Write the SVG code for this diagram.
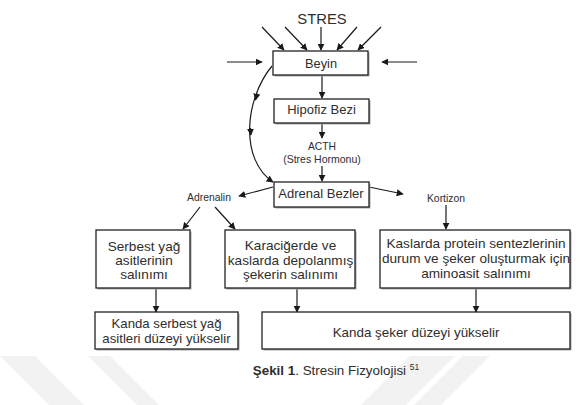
<svg xmlns="http://www.w3.org/2000/svg" width="583" height="405" viewBox="0 0 583 405">
<style>
.box{fill:#fff;stroke:#222;stroke-width:1.3}
.sh{fill:#aaa}
.ln{fill:none;stroke:#1a1a1a;stroke-width:1.2}
.t{font-family:"Liberation Sans",Arial,sans-serif;fill:#2e2e2e;text-anchor:middle}
.wm{fill:#f2f2f2}
</style>
<defs>
<marker id="ah" viewBox="0 0 10 10" refX="9" refY="5" markerWidth="7" markerHeight="7" markerUnits="userSpaceOnUse" orient="auto">
<path d="M0,0 L10,5 L0,10 z" fill="#1a1a1a"/>
</marker>
</defs>
<rect width="583" height="405" fill="#fff"/>
<g id="watermark">
<polygon class="wm" points="0,356 35,356 84,405 49,405"/>
<polygon class="wm" points="88,356 110,356 159,405 137,405"/>
<polygon class="wm" points="410,356 455,356 406,405 361,405"/>
<polygon class="wm" points="463,356 490,356 441,405 414,405"/>
</g>
<g id="connectors">
<line class="ln" x1="262" y1="27" x2="284" y2="50" marker-end="url(#ah)"/>
<line class="ln" x1="285" y1="27" x2="307" y2="50" marker-end="url(#ah)"/>
<line class="ln" x1="321" y1="27" x2="321" y2="50" marker-end="url(#ah)"/>
<line class="ln" x1="357" y1="27" x2="337" y2="50" marker-end="url(#ah)"/>
<line class="ln" x1="381" y1="27" x2="358" y2="50" marker-end="url(#ah)"/>
<line class="ln" x1="227" y1="62" x2="262" y2="62" marker-end="url(#ah)"/>
<line class="ln" x1="417" y1="62" x2="382" y2="62" marker-end="url(#ah)"/>
<line class="ln" x1="322" y1="75" x2="322" y2="98" marker-end="url(#ah)"/>
<line class="ln" x1="322" y1="123" x2="322" y2="138" marker-end="url(#ah)"/>
<line class="ln" x1="322" y1="166" x2="322" y2="181" marker-end="url(#ah)"/>
<path class="ln" d="M272,66 C244,100 240,160 273,182" marker-end="url(#ah)"/>
<path class="ln" d="M257,93 l-1.5,7" marker-end="url(#ah)"/>
<path class="ln" d="M250.5,128 l0.3,7" marker-end="url(#ah)"/>
<line class="ln" x1="273" y1="187" x2="239" y2="196" marker-end="url(#ah)"/>
<line class="ln" x1="369" y1="187" x2="403" y2="194" marker-end="url(#ah)"/>
<line class="ln" x1="200" y1="207" x2="183" y2="229" marker-end="url(#ah)"/>
<line class="ln" x1="215" y1="207" x2="235" y2="229" marker-end="url(#ah)"/>
<line class="ln" x1="446" y1="205" x2="446" y2="229" marker-end="url(#ah)"/>
<line class="ln" x1="156" y1="289" x2="156" y2="312" marker-end="url(#ah)"/>
<line class="ln" x1="297" y1="289" x2="297" y2="312" marker-end="url(#ah)"/>
<line class="ln" x1="476" y1="289" x2="476" y2="312" marker-end="url(#ah)"/>
</g>
<g id="stres"><text class="t" x="322" y="24" font-size="14.8">STRES</text></g>
<g id="beyin">
<rect class="sh" x="274.5" y="52.5" width="95" height="24"/>
<rect class="box" x="273" y="51" width="95" height="24"/>
<text class="t" x="321" y="67.5" font-size="12.8">Beyin</text>
</g>
<g id="hipofiz">
<rect class="sh" x="275.5" y="100.5" width="95" height="24"/>
<rect class="box" x="274" y="99" width="95" height="24"/>
<text class="t" x="321.5" y="114" font-size="13">Hipofiz Bezi</text>
</g>
<g id="acth">
<text class="t" x="322" y="150" font-size="10.3">ACTH</text>
<text class="t" x="322" y="163" font-size="10.5">(Stres Hormonu)</text>
</g>
<g id="adrenal">
<rect class="sh" x="275.5" y="183.5" width="95" height="25"/>
<rect class="box" x="274" y="182" width="95" height="25"/>
<text class="t" x="321" y="198" font-size="13">Adrenal Bezler</text>
</g>
<g id="adrenalin"><text class="t" x="209" y="201" font-size="10.4">Adrenalin</text></g>
<g id="kortizon"><text class="t" x="446" y="201.5" font-size="10.4">Kortizon</text></g>
<g id="serbest">
<rect class="sh" x="97.5" y="231.5" width="94" height="58"/>
<rect class="box" x="96" y="230" width="94" height="58"/>
<text class="t" x="144" y="251" font-size="13.6">Serbest yağ</text>
<text class="t" x="144" y="265" font-size="13.6">asitlerinin</text>
<text class="t" x="144" y="279" font-size="13.6">salınımı</text>
</g>
<g id="karaciger">
<rect class="sh" x="226.5" y="231.5" width="130" height="58"/>
<rect class="box" x="225" y="230" width="130" height="58"/>
<text class="t" x="290.5" y="250" font-size="13.6">Karaciğerde ve</text>
<text class="t" x="290.5" y="264.5" font-size="13.6">kaslarda depolanmış</text>
<text class="t" x="290.5" y="279" font-size="13.6">şekerin salınımı</text>
</g>
<g id="kaslarda">
<rect class="sh" x="381.5" y="231.5" width="190" height="58"/>
<rect class="box" x="380" y="230" width="190" height="58"/>
<text class="t" x="476" y="248" font-size="13.6">Kaslarda protein sentezlerinin</text>
<text class="t" x="476" y="263" font-size="13.6">durum ve şeker oluşturmak için</text>
<text class="t" x="476" y="278" font-size="13.6">aminoasit salınımı</text>
</g>
<g id="kanda-yag">
<rect class="sh" x="96.5" y="313.5" width="143" height="37"/>
<rect class="box" x="95" y="312" width="143" height="37"/>
<text class="t" x="166.5" y="327.5" font-size="13.2">Kanda serbest yağ</text>
<text class="t" x="166.5" y="342.5" font-size="13.2">asitleri düzeyi yükselir</text>
</g>
<g id="kanda-seker">
<rect class="sh" x="263.5" y="313.5" width="308" height="37"/>
<rect class="box" x="262" y="312" width="308" height="37"/>
<text class="t" x="416" y="336.5" font-size="13.4">Kanda şeker düzeyi yükselir</text>
</g>
<g id="caption">
<text class="t" x="336" y="375" font-size="13.4"><tspan font-weight="bold">Şekil 1</tspan>. Stresin Fizyolojisi <tspan font-size="8.5" dy="-5">51</tspan></text>
</g>
</svg>
